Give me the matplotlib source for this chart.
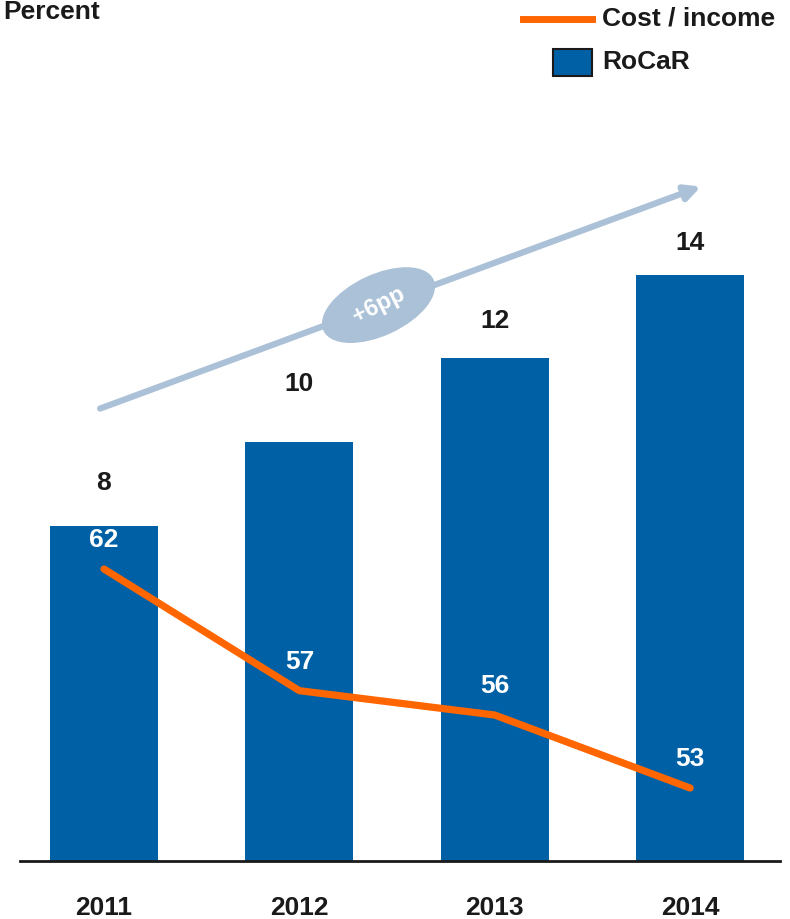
import matplotlib.pyplot as plt
import matplotlib.transforms as mtransforms
from matplotlib.patches import Ellipse, Rectangle
from matplotlib.lines import Line2D

plt.rcParams['font.family'] = ['Liberation Sans', 'DejaVu Sans']
plt.rcParams['font.weight'] = 'bold'

years = ["2011", "2012", "2013", "2014"]
rocar = [8, 10, 12, 14]
cost_income = [62, 57, 56, 53]

blue = "#0060A5"
orange = "#FF6600"
light = "#ABC1D7"
fs = 19

fig = plt.figure(figsize=(7.9, 9.19), dpi=100)
ax = fig.add_axes([0.0253, 0.0631, 0.962, 0.8716])
ax2 = ax.twinx()

x = list(range(len(years)))
ax.bar(x, rocar, width=0.554, color=blue, zorder=2)
ax.set_xlim(-0.43, 3.46)
ax.set_ylim(0, 19.12)

ax2.plot(x, cost_income, color=orange, lw=5.2, solid_capstyle="round", zorder=3)
ax2.set_ylim(50, 82.92)

# value labels
bar_off = [43, 58, 37, 32]
for xi, v, off in zip(x, rocar, bar_off):
    ax.annotate(str(v), (xi, v), xytext=(0, off * 0.72), textcoords="offset points",
                ha="center", va="center", fontsize=fs, color="#1a1a1a")
for xi, v in zip(x, cost_income):
    ax2.annotate(str(v), (xi, v), xytext=(0, 21), textcoords="offset points",
                 ha="center", va="center", fontsize=fs, color="white")

for a in (ax, ax2):
    for s in a.spines.values():
        s.set_visible(False)
    a.set_yticks([])
ax.spines["bottom"].set_visible(True)
ax.spines["bottom"].set_linewidth(2)
ax.spines["bottom"].set_color("#1a1a1a")
ax.set_xticks(x)
ax.set_xticklabels(years, fontsize=fs, color="#1a1a1a")
ax.tick_params(axis="x", length=0, pad=25)

# growth arrow
ax.annotate("", xy=(3.056, 16.1), xytext=(-0.02, 10.8),
            arrowprops=dict(arrowstyle="-|>,head_length=0.9,head_width=0.45",
                            color=light, lw=4.5, shrinkA=0, shrinkB=0), zorder=1)
tr = fig.dpi_scale_trans + mtransforms.ScaledTranslation(1.405, 13.27, ax.transData)
ax.add_patch(Ellipse((0, 0), 1.2, 0.6, angle=25, transform=tr, color=light, zorder=1))
ax.text(1.405, 13.27, "+6pp", rotation=27, ha="center", va="center",
        fontsize=17, color="white", rotation_mode="anchor", zorder=4)

# header and legend
fig.text(0.004, 0.987, "Percent", fontsize=fs, ha="left", va="center", color="#1a1a1a")
fig.add_artist(Line2D([523 / 790, 592 / 790], [1 - 19 / 919, 1 - 19 / 919],
                      color=orange, lw=5, transform=fig.transFigure))
fig.text(602 / 790, 1 - 19 / 919, "Cost / income", fontsize=fs, ha="left", va="center",
         color="#1a1a1a")
fig.add_artist(Rectangle((553 / 790, 1 - 76 / 919), 39 / 790, 27 / 919, fc=blue,
                         ec="#1a1a1a", lw=1.5, transform=fig.transFigure))
fig.text(602 / 790, 1 - 62 / 919, "RoCaR", fontsize=fs, ha="left", va="center",
         color="#1a1a1a")

fig.savefig("out.png", dpi=100)
